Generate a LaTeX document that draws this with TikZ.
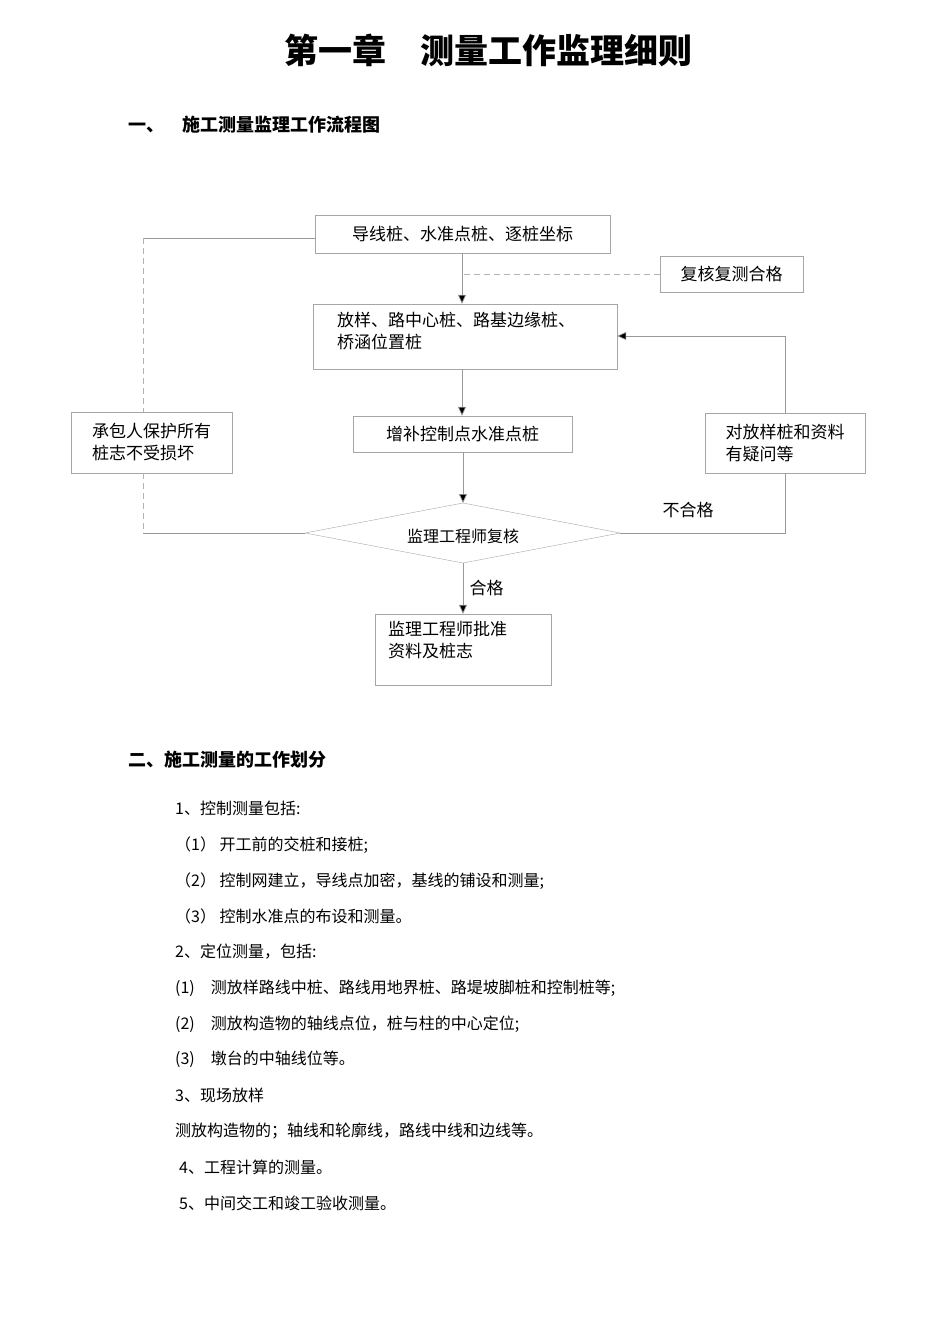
\documentclass[tikz,border=0pt]{standalone}
\usepackage{fontspec}
\setmainfont{Noto Sans CJK SC}
\usetikzlibrary{shapes.geometric,arrows.meta}
\tikzset{box/.style={draw=gray!70,inner sep=0pt,font=\fontsize{17}{22}\selectfont},
 ln/.style={draw=gray!80,line width=0.7pt},
 arr/.style={ln,-{Triangle[length=9pt,width=8pt,fill=black]}},
 dsh/.style={draw=gray!60,dash pattern=on 6pt off 4pt,line width=0.8pt},
 txt/.style={anchor=west,font=\fontsize{16}{20}\selectfont,inner sep=0pt}}
\begin{document}
\begin{tikzpicture}[x=1pt,y=-1pt]
\useasboundingbox (0,0) rectangle (950,1344);
\node[font=\fontsize{34}{40}\selectfont\bfseries] (title) at (488,50) {第一章\quad 测量工作监理细则};
\node[txt,font=\fontsize{18}{22}\selectfont\bfseries] (h1) at (128,125) {一、\quad 施工测量监理工作流程图};
\node[box,minimum width=295pt,minimum height=38pt] (b1) at (462.5,234) {导线桩、水准点桩、逐桩坐标};
\node[box,minimum width=143pt,minimum height=36pt] (b2) at (731.5,274) {复核复测合格};
\node[box,minimum width=304pt,minimum height=65pt] (b3) at (465,336.5) {};
\node[anchor=north west,align=left,font=\fontsize{17}{22}\selectfont,inner sep=0pt] (b3t) at (337,312) {放样、路中心桩、路基边缘桩、\\ 桥涵位置桩};
\node[box,minimum width=219pt,minimum height=36pt] (b4) at (462.5,434) {增补控制点水准点桩};
\node[box,minimum width=161pt,minimum height=61pt,align=left] (b5) at (151.5,442.5) {承包人保护所有\\桩志不受损坏};
\node[box,minimum width=160pt,minimum height=60pt,align=left] (b6) at (785,443) {对放样桩和资料\\有疑问等};
\coordinate (dn) at (463,503); \coordinate (ds) at (463,563);
\coordinate (dw) at (305,533); \coordinate (de) at (620,533);
\draw[draw=gray!70] (dn) -- (de) -- (ds) -- (dw) -- cycle;
\node[font=\fontsize{16}{20}\selectfont] (dt) at (463,536) {监理工程师复核};
\node[box,minimum width=176pt,minimum height=71pt] (b7) at (463,649.5) {};
\node[anchor=north west,align=left,font=\fontsize{17}{22}\selectfont,inner sep=0pt] (b7t) at (388,621) {监理工程师批准\\资料及桩志};
\coordinate (c1) at (462,274);
\draw[arr] (b1.south -| c1) -- (b3.north -| c1);
\draw[dsh] (b2.west) -- (c1);
\draw[arr] (b3.south -| c1) -- (b4.north -| c1);
\draw[arr] (b4.south -| dn) -- (dn);
\draw[arr] (ds) -- node[right,font=\fontsize{17}{20}\selectfont,xshift=3pt] (hg) {合格} (b7.north -| ds);
\coordinate (l1) at (143,238); \coordinate (l2) at (143,533);
\draw[ln] (b1.west|-l1) -- (l1);
\draw[dsh] (l1) -- (b5.north -| l1);
\draw[dsh] (b5.south -| l1) -- (l2);
\draw[ln] (l2) -- (dw);
\coordinate (r1) at (785,336); \coordinate (r2) at (785,533);
\draw[arr] (b6.north) -- (r1) -- (b3.east |- r1);
\draw[ln] (b6.south) -- (r2) -- (de);
\node[font=\fontsize{17}{20}\selectfont] (bhg) at (688,510) {不合格};
\node[txt,font=\fontsize{18}{22}\selectfont\bfseries] (h2) at (128,760) {二、施工测量的工作划分};
\node[txt] (t1) at (175,808) {1、控制测量包括:};
\node[txt] (t2) at (175,845) {（1）\ 开工前的交桩和接桩;};
\node[txt] (t3) at (175,881) {（2）\ 控制网建立，导线点加密，基线的铺设和测量;};
\node[txt] (t4) at (175,916) {（3）\ 控制水准点的布设和测量。};
\node[txt] (t5) at (175,952) {2、定位测量，包括:};
\node[txt] (t6) at (175,988) {(1)\quad 测放样路线中桩、路线用地界桩、路堤坡脚桩和控制桩等;};
\node[txt] (t7) at (175,1024) {(2)\quad 测放构造物的轴线点位，桩与柱的中心定位;};
\node[txt] (t8) at (175,1059) {(3)\quad 墩台的中轴线位等。};
\node[txt] (t9) at (175,1095) {3、现场放样};
\node[txt] (t10) at (175,1131) {测放构造物的；轴线和轮廓线，路线中线和边线等。};
\node[txt] (t11) at (179,1167) {4、工程计算的测量。};
\node[txt] (t12) at (179,1203) {5、中间交工和竣工验收测量。};
\end{tikzpicture}
\end{document}
